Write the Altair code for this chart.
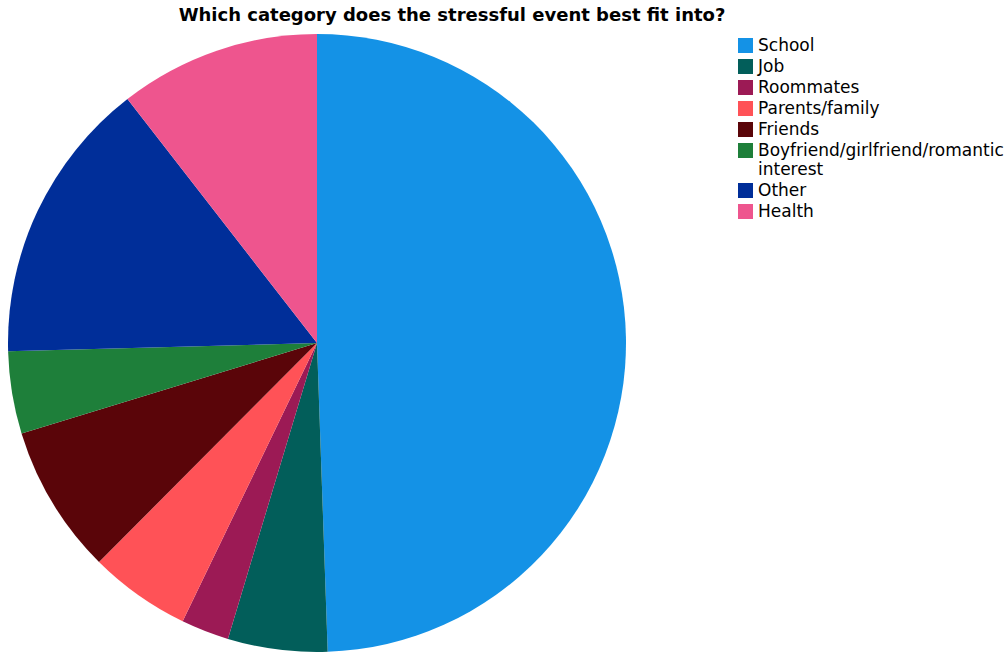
import altair as alt
import pandas as pd

categories = ["School", "Job", "Roommates", "Parents/family", "Friends",
              "Boyfriend/girlfriend/romantic interest", "Other", "Health"]
shares = [49.4, 5.2, 2.5, 5.3, 7.8, 4.3, 14.9, 10.5]
colors = ["#1492E6", "#025E5A", "#9C1A55", "#FF5257", "#5A0509",
          "#1E7F3A", "#002E99", "#EE558E"]

df = pd.DataFrame({"category": categories, "share": shares,
                   "order": list(range(len(categories)))})

chart = alt.Chart(df).mark_arc(radius=309, stroke=None).encode(
    theta=alt.Theta("share:Q", stack=True),
    order=alt.Order("order:Q"),
    color=alt.Color(
        "category:N",
        scale=alt.Scale(domain=categories, range=colors),
        legend=alt.Legend(
            title=None, orient="none", legendX=737, legendY=3,
            symbolType="square", symbolSize=225, symbolStrokeWidth=0,
            labelFontSize=17, labelFont="DejaVu Sans", labelColor="#000000",
            labelOffset=4, rowPadding=3, padding=0, labelLimit=400,
            labelExpr="datum.label == 'Boyfriend/girlfriend/romantic interest' ? ['Boyfriend/girlfriend/romantic', 'interest'] : datum.label",
        ),
    ),
    x=alt.value(317),
    y=alt.value(309),
).properties(
    width=1008, height=620,
    title=alt.TitleParams(
        "Which category does the stressful event best fit into?",
        font="DejaVu Sans", fontSize=18, fontWeight="bold", color="#000000",
        anchor="middle", dx=-52, offset=9,
    ),
    padding={"top": 34, "left": 0, "right": 0, "bottom": 0},
    autosize=alt.AutoSizeParams(type="none"),
).configure_view(stroke=None)

chart.save("out.html", embed_options={"renderer": "svg", "actions": False})
